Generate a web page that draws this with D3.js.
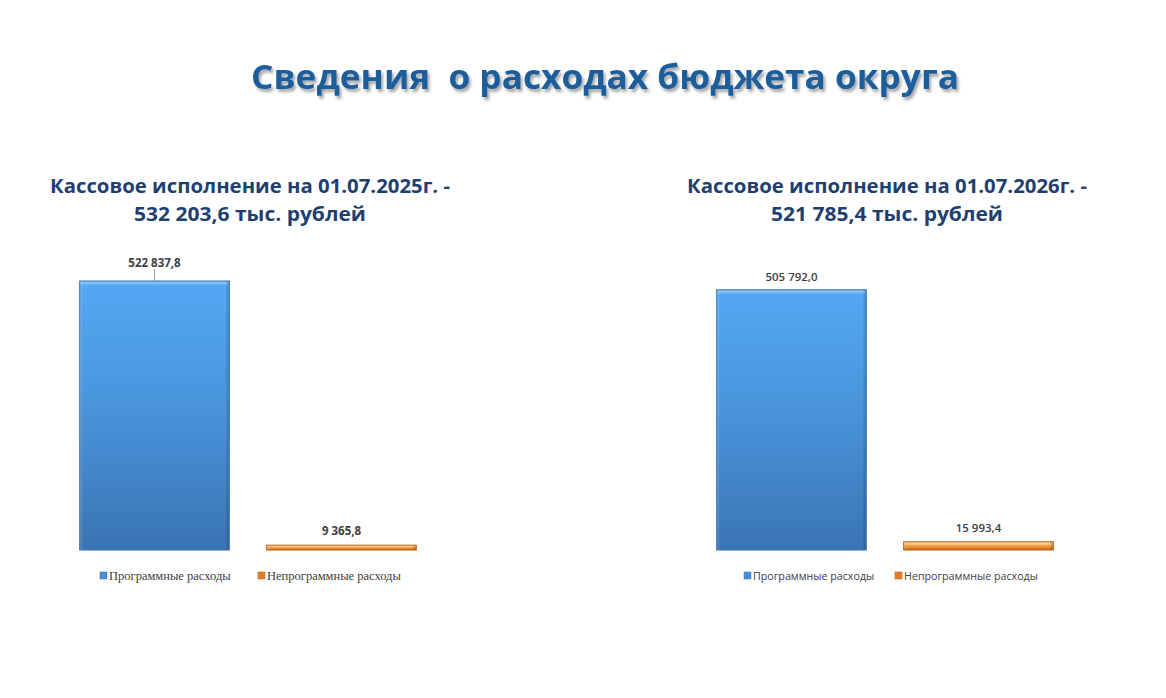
<!DOCTYPE html>
<html><head><meta charset="utf-8">
<script src="https://cdn.jsdelivr.net/npm/d3@7"></script>
<style>body{margin:0;background:#fff;}svg{display:block;}</style>
</head><body>
<script>
const title = "Сведения  о расходах бюджета округа";
const panelTitles = [
  ["Кассовое исполнение на 01.07.2025г. -", "532 203,6 тыс. рублей"],
  ["Кассовое исполнение на 01.07.2026г. -", "521 785,4 тыс. рублей"]
];
const categories = ["Программные расходы", "Непрограммные расходы"];
const values2025 = [522837.8, 9365.8];
const values2026 = [505792.0, 15993.4];
const labels2025 = ["522 837,8", "9 365,8"];
const labels2026 = ["505 792,0", "15 993,4"];

const W = 1166, H = 698;
const svg = d3.select("body").append("svg").attr("width", W).attr("height", H);
const defs = svg.append("defs");

const gB = defs.append("linearGradient").attr("id","gBlue").attr("x1",0).attr("y1",0).attr("x2",0).attr("y2",1);
gB.append("stop").attr("offset","0%").attr("stop-color","#54a8f4");
gB.append("stop").attr("offset","45%").attr("stop-color","#4a95dc");
gB.append("stop").attr("offset","100%").attr("stop-color","#3a74b2");
const gO = defs.append("linearGradient").attr("id","gOrange").attr("x1",0).attr("y1",0).attr("x2",0).attr("y2",1);
gO.append("stop").attr("offset","0%").attr("stop-color","#f8c070");
gO.append("stop").attr("offset","50%").attr("stop-color","#f0a040");
gO.append("stop").attr("offset","100%").attr("stop-color","#c8681a");
const f = defs.append("filter").attr("id","tshadow").attr("x","-5%").attr("y","-20%").attr("width","110%").attr("height","150%");
f.append("feDropShadow").attr("dx",2).attr("dy",3).attr("stdDeviation",1.6).attr("flood-color","#000").attr("flood-opacity",0.35);

svg.append("text").attr("x", 605).attr("y", 89).attr("text-anchor","middle")
  .attr("font-family","'Open Sans', sans-serif").attr("font-weight",700).attr("font-size",34)
  .attr("fill","#1f5d9b").attr("filter","url(#tshadow)")
  .attr("textLength",708).attr("lengthAdjust","spacingAndGlyphs")
  .style("white-space","pre").text(title);

const panels = [
  {cx:250, values:values2025, labels:labels2025, x0:79, legendFont:"'Liberation Serif', serif", legendSize:12.5, labelBold:true, legendX:[100,258], leader:true},
  {cx:887, values:values2026, labels:labels2026, x0:716, legendFont:"'Open Sans', sans-serif", legendSize:10.7, labelBold:false, legendX:[744,895], leader:false}
];
const colors = ["url(#gBlue)", "url(#gOrange)"];
const strokes = ["#3a70a8", "#b85c14"];
const legendColors = ["#4a90d8", "#e0802a"];

const y = d3.scaleLinear().domain([0, 600000]).range([550, 241.3]);

panels.forEach((p, pi) => {
  const g = svg.append("g");
  panelTitles[pi].forEach((t, i) => {
    g.append("text").attr("x", p.cx).attr("y", 193 + i*28).attr("text-anchor","middle")
      .attr("font-family","'Open Sans', sans-serif").attr("font-weight",700).attr("font-size",19.5)
      .attr("fill","#1f3f70").attr("textLength", i===0?400:232).attr("lengthAdjust","spacingAndGlyphs")
      .text(t);
  });
  const x = d3.scaleBand().domain(categories).range([p.x0 - 18, p.x0 + 356]).paddingInner(0.2).paddingOuter(0.1);
  categories.forEach((c, i) => {
    const bx = x(c), bw = x.bandwidth(), by = y(p.values[i]), bh = y(0) - y(p.values[i]);
    g.append("rect").attr("x",bx).attr("y",by).attr("width",bw).attr("height",bh)
      .attr("fill",colors[i]).attr("stroke",strokes[i]).attr("stroke-width",1);
    const bev = Math.min(3, bh/3);
    g.append("rect").attr("x",bx+1).attr("y",by+0.5).attr("width",bw-2).attr("height",bev)
      .attr("fill","#ffffff").attr("opacity",0.28);
    g.append("rect").attr("x",bx+bw-3).attr("y",by).attr("width",2.5).attr("height",bh)
      .attr("fill","#000").attr("opacity",0.12);
    g.append("rect").attr("x",bx+0.5).attr("y",by).attr("width",2).attr("height",bh)
      .attr("fill","#fff").attr("opacity",0.12);
    const lx = bx + bw/2;
    const ly = i===0 ? by - (p.leader ? 14 : 9) : by - 10;
    g.append("text").attr("x",lx).attr("y",ly).attr("text-anchor","middle")
      .attr("font-family","'Open Sans', sans-serif").attr("font-weight", p.labelBold?700:600)
      .attr("font-size",11.5).attr("fill","#404040").text(p.labels[i]);
    if (i===0 && p.leader) {
      g.append("line").attr("x1",lx).attr("x2",lx).attr("y1",by-12).attr("y2",by)
        .attr("stroke","#a0a0a0").attr("stroke-width",1);
    }
  });
  categories.forEach((c, i) => {
    const lx = p.legendX[i];
    g.append("rect").attr("x",lx).attr("y",572).attr("width",7).attr("height",7)
      .attr("fill",legendColors[i]).attr("stroke",strokes[i]).attr("stroke-width",0.5);
    g.append("text").attr("x",lx+9).attr("y",580).attr("font-family",p.legendFont)
      .attr("font-size", p.legendSize).attr("fill","#404040").text(c);
  });
});
</script>
</body></html>
